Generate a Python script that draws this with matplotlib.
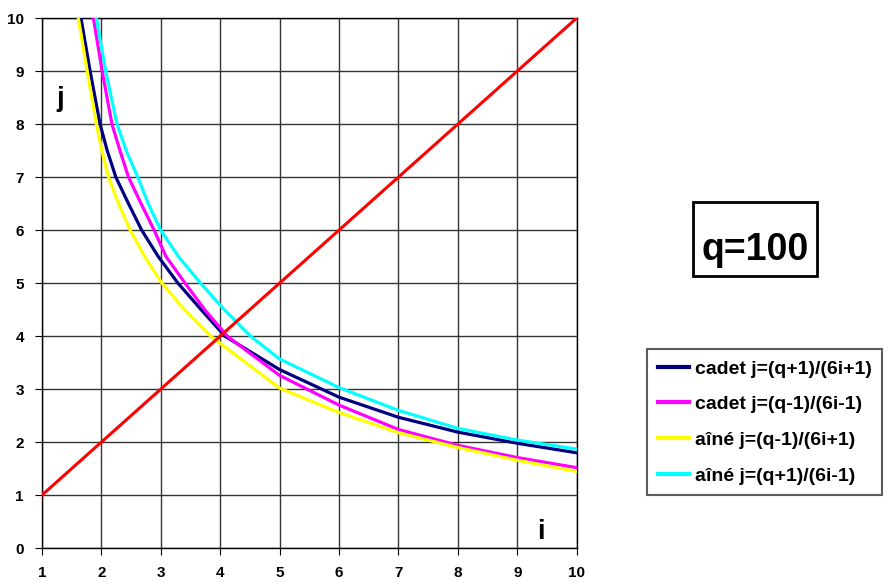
import matplotlib.pyplot as plt
from matplotlib.patches import Rectangle

plt.rcParams['font.family'] = ['Liberation Sans', 'DejaVu Sans']
plt.rcParams['font.weight'] = 'bold'

# courbes (q=100)
cadet1_i = [1.659, 1.812, 1.98, 2.10, 2.245, 2.458, 2.68, 2.96, 3.29, 3.68, 4.08, 5, 6, 7, 8, 9, 10]
cadet1_j = [10, 9, 8, 7.5, 7, 6.5, 6, 5.5, 5, 4.5, 4, 3.37, 2.85, 2.47, 2.19, 1.98, 1.80]

cadet2_i = [1.868, 2.015, 2.18, 2.315, 2.458, 2.67, 2.889, 3.09, 3.41, 3.74, 4.12, 5, 6, 7, 8, 9, 10]
cadet2_j = [10, 9, 8, 7.5, 7, 6.5, 6, 5.5, 5, 4.5, 4, 3.26, 2.70, 2.24, 1.94, 1.71, 1.52]

aine1_i = [1.614, 1.763, 1.918, 2.01, 2.122, 2.29, 2.487, 2.73, 3.02, 3.40, 3.84, 5, 6, 7, 8, 9, 10]
aine1_j = [10, 9, 8, 7.5, 7, 6.5, 6, 5.5, 5, 4.5, 4, 3.02, 2.56, 2.18, 1.90, 1.66, 1.45]

aine2_i = [1.918, 2.075, 2.265, 2.42, 2.614, 2.79, 3.0, 3.3, 3.67, 4.07, 4.51, 5, 6, 7, 8, 9, 10]
aine2_j = [10, 9, 8, 7.5, 7, 6.5, 6, 5.5, 5, 4.5, 4, 3.57, 3.03, 2.6, 2.26, 2.04, 1.87]

diag = [1, 10]

labels = ['cadet j=(q+1)/(6i+1)', 'cadet j=(q-1)/(6i-1)',
          'aîné j=(q-1)/(6i+1)', 'aîné j=(q+1)/(6i-1)']
colors = ['#000080', '#FF00FF', '#FFFF00', '#00FFFF']

fig = plt.figure(figsize=(8.9, 5.82), dpi=100)
ax = fig.add_axes([0.047, 0.058, 0.601, 0.911])

series = [(cadet1_i, cadet1_j), (cadet2_i, cadet2_j), (aine1_i, aine1_j), (aine2_i, aine2_j)]
handles = []
for (xs, ys), c, lab in zip(series, colors, labels):
    h, = ax.plot(xs, ys, color=c, lw=2.3, label=lab, zorder=3,
                 solid_joinstyle='round')
    handles.append(h)
ax.plot(diag, diag, color='#FF0000', lw=2.2, zorder=4)

ax.set_xlim(1, 10)
ax.set_ylim(0, 10)
ax.set_xticks(range(1, 11))
ax.set_yticks(range(0, 11))
ax.grid(True, color='#333333', lw=1)
ax.tick_params(axis='both', labelsize=11, length=5, color='black')
ax.tick_params(axis='x', pad=8)
ax.tick_params(axis='y', pad=8)
for lab in ax.get_xticklabels() + ax.get_yticklabels():
    lab.set_fontweight('bold')
for sp in ax.spines.values():
    sp.set_color('black')
    sp.set_linewidth(1)

ax.text(1.25, 8.47, 'j', fontsize=20, fontweight='bold', va='center', ha='left')
ax.text(9.40, 0.30, 'i', fontsize=20, fontweight='bold', va='center', ha='center')

# encadré q=100
fig.patches.append(Rectangle((0.7787, 0.5258), 0.1393, 0.1271, transform=fig.transFigure,
                             fill=False, ec='black', lw=2))
fig.text(0.849, 0.5533, 'q=100', fontsize=27, fontweight='bold', ha='center', va='baseline')

leg = fig.legend(handles=handles, loc='upper left', bbox_to_anchor=(0.727, 0.400),
                 frameon=True, fancybox=False, edgecolor='#333333',
                 handlelength=1.6, handletextpad=0.3, labelspacing=0.93,
                 borderpad=0.55, borderaxespad=0,
                 prop={'weight': 'bold', 'size': 14})
leg.get_frame().set_linewidth(1.5)
for line in leg.get_lines():
    line.set_linewidth(3)

fig.savefig('out.png', dpi=100)
